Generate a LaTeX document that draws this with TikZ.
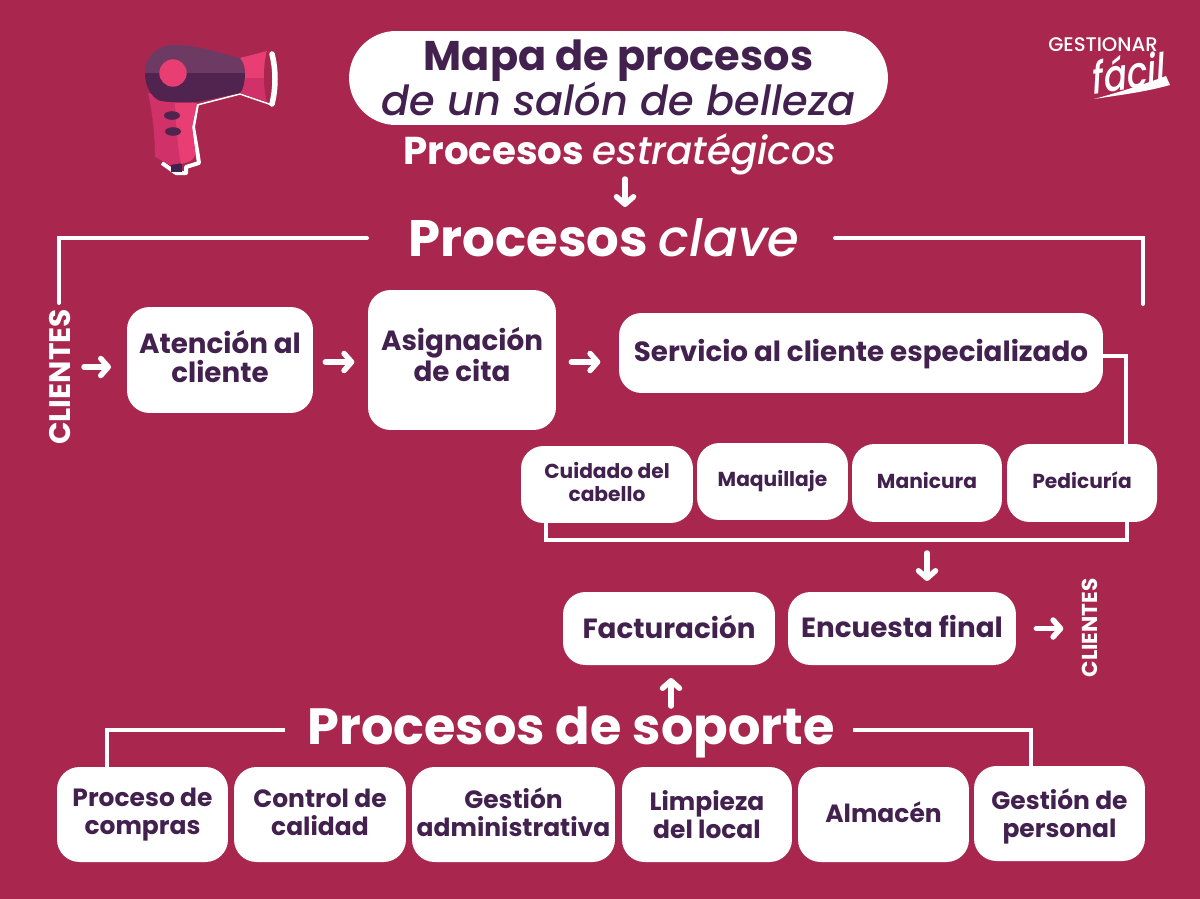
\documentclass[tikz,border=0pt]{standalone}
\usepackage{fontspec}
\setmainfont{Poppins}
\newfontfamily\popM[ItalicFont={Poppins Medium Italic}]{Poppins Medium}
\usepackage{tikz}
\usetikzlibrary{arrows.meta,calc,positioning}
\definecolor{fondo}{RGB}{169,39,79}
\definecolor{morado}{RGB}{67,33,79}
\definecolor{rosa}{RGB}{232,62,116}
\definecolor{rosaOsc}{RGB}{207,49,104}
\definecolor{moradoCl}{RGB}{109,58,99}
\definecolor{moradoOsc}{RGB}{80,36,79}
\tikzset{
  caja/.style={ fill=white, text=morado, font=\bfseries, align=center, inner sep=0pt, rounded corners=0.45cm }
}
\tikzset{
  cajaG/.style={ caja, font=\fontsize{15.8}{16.5}\selectfont\bfseries }
}
\tikzset{
  cajaM/.style={ caja, font=\fontsize{14.2}{16}\selectfont\bfseries }
}
\tikzset{
  cajaS/.style={ caja, font=\fontsize{11.5}{13}\selectfont\bfseries }
}
\tikzset{
  linea/.style={ draw=white, line width=0.08cm }
}
\tikzset{
  lineaF/.style={ draw=white, line width=0.07cm }
}
\tikzset{
  flecha/.style={ draw=white, line width=0.11cm, line cap=round, -{Straight Barb[round,length=1.5mm,width=3.4mm]} }
}
\tikzset{
  titulo/.style={ text=white, inner sep=0pt, font=\bfseries }
}
\begin{document}
\begin{tikzpicture}[x=0.02cm, y=-0.02cm]
      \fill[fondo] (0,0) rectangle (1200,899);
      \useasboundingbox (0,0) rectangle (1200,899);

      % secador
      \draw[white, line width=0.08cm, line join=round] (197,104) -- (193,127) -- (197,150) -- (199,163) -- (186,167) -- (186,173) -- (176,173) -- (162,163);
      \draw[white, line width=0.03cm] (197,105) -- (240,94) -- (272,105);
      \draw[white, line width=0.11cm, line cap=round] (272,54) .. controls (276,70) and (276,88) .. (272,104);
      \fill[morado] (171,163) rectangle (182,172);
      \fill[rosaOsc] (148,93) .. controls (152,110) and (155,135) .. (155,157) -- (170,165) -- (188,162) .. controls (194,160) and (196,155) .. (195,150) -- (192,127) -- (197,103) -- cycle;
      \fill[rosa] (175,103) .. controls (176,125) and (178,150) .. (181,164) -- (188,162) .. controls (194,160) and (196,155) .. (195,150) -- (192,127) -- (197,103) -- cycle;
      \fill[rosa] (240,58) -- (267,51) -- (264,78) -- (245,78) -- cycle;
      \fill[rosaOsc] (245,78) -- (264,78) -- (267,102) -- (240,93) -- cycle;
      \fill[fondo] (267,51) .. controls (263,65) and (263,88) .. (267,102) .. controls (270,88) and (270,65) .. (267,51) -- cycle;
      \fill[moradoCl] (145,73) .. controls (145,55) and (158,45) .. (175,45) .. controls (200,45) and (225,55) .. (240,58) .. controls (244,63) and (245,68) .. (245,73) -- cycle;
      \fill[moradoOsc] (145,73) -- (245,73) .. controls (245,82) and (243,90) .. (240,93) -- (197,102) .. controls (178,103) and (162,102) .. (158,100) .. controls (150,95) and (145,85) .. (145,73) -- cycle;
      \fill[rosa] (173,73) circle (13.7);
      \fill[moradoOsc] (172,115.5) ellipse (8 and 4.3);
      \fill[moradoOsc] (173,131.5) ellipse (8 and 4.3);

      % logo
      \node[text=white, inner sep=0pt, font=\fontsize{11.2}{12}\selectfont\popM] (gestionar) at (1103,44.5) {GESTIONAR};
      \node[text=white, inner sep=0pt, font=\fontsize{25}{27}\selectfont\popM\itshape, xscale=0.78, rotate=6] (facil) at (1129,72) {fácil};
      \fill[white] (1094,99) .. controls (1120,92) and (1145,84) .. (1166,76) -- (1170,85) .. controls (1145,92) and (1120,95) .. (1094,99) -- cycle;

      % titulo
      \node[caja, rounded corners=0.94cm, minimum width=10.78cm, minimum height=1.88cm, font=\fontsize{23.6}{25}\selectfont\bfseries] (mapa) at (618.5,78) {Mapa de procesos\\[-0.6pt]{\popM\mdseries\itshape de un salón de belleza}};

      \node[titulo, font=\fontsize{22.1}{24}\selectfont\bfseries] (estrat) at (620,154) {Procesos {\popM\mdseries\itshape estratégicos}};
      \node[titulo, font=\fontsize{29.2}{32}\selectfont\bfseries] (clave) at (604,238) {Procesos {\popM\mdseries\itshape clave}};
      \node[titulo, font=\fontsize{29}{34}\selectfont\bfseries] (soporte) at (571,732) {Procesos de soporte};

      \node[titulo, rotate=90, font=\fontsize{16.9}{18}\selectfont\bfseries] (cliA) at (60,377) {CLIENTES};
      \node[titulo, rotate=90, font=\fontsize{12.3}{13}\selectfont\bfseries] (cliB) at (1090,628) {CLIENTES};

      % cajas
      \node[cajaG, minimum width=3.72cm, minimum height=2.12cm, text depth=4pt] (atencion) at (220,360) {Atención al\\cliente};
      \node[cajaG, minimum width=3.76cm, minimum height=2.8cm, text depth=6.2pt] (cita) at (462,360) {Asignación\\de cita};
      \node[cajaG, minimum width=9.68cm, minimum height=1.6cm, text height=14pt] (servicio) at (861,353) {Servicio al cliente especializado};

      \node[cajaS, minimum width=3.44cm, minimum height=1.54cm, text depth=3.4pt] (cabello) at (607,484.5) {Cuidado del\\cabello};
      \node[cajaS, minimum width=3.02cm, minimum height=1.54cm] (maquillaje) at (772.5,481.5) {Maquillaje};
      \node[cajaS, minimum width=3cm, minimum height=1.56cm, text depth=3.4pt] (manicura) at (927,483) {Manicura};
      \node[cajaS, minimum width=3cm, minimum height=1.56cm, text depth=3.4pt] (pedicuria) at (1082,483) {Pedicuría};

      \node[cajaG, minimum width=4.24cm, minimum height=1.46cm, text depth=2.3pt] (factura) at (669,628.5) {Facturación};
      \node[cajaG, minimum width=4.56cm, minimum height=1.46cm, text depth=2.3pt] (encuesta) at (902,628.5) {Encuesta final};

      \node[cajaM, minimum width=3.42cm, minimum height=1.9cm] (compras) at (142.5,814.5) {Proceso de\\compras};
      \node[cajaM, minimum width=3.44cm, minimum height=1.9cm, text depth=2.3pt] (calidad) at (320,814.5) {Control de\\calidad};
      \node[cajaM, minimum width=4.06cm, minimum height=1.9cm, text depth=2.3pt] (admin) at (513.5,814.5) {Gestión\\administrativa};
      \node[cajaM, minimum width=3.4cm, minimum height=1.9cm] (limpieza) at (707,814.5) {Limpieza\\del local};
      \node[cajaM, minimum width=3.42cm, minimum height=1.9cm, text depth=2.3pt] (almacen) at (883.5,814.5) {Almacén};
      \node[cajaM, minimum width=3.42cm, minimum height=1.9cm, text height=31pt] (personal) at (1059.5,813.5) {Gestión de\\personal};

      % puntos libres
      \coordinate (claveA) at (367,238);
      \coordinate (claveB) at (59,303);
      \coordinate (claveC) at (835,238);
      \coordinate (claveD) at (1143,304);
      \coordinate (servA) at (1126,444);
      \coordinate (grupoA) at (546,523);
      \coordinate (grupoB) at (1127,522);
      \coordinate (grupoC) at (927,540);
      \coordinate (soporteA) at (285,730);
      \coordinate (soporteB) at (853,730);
      \coordinate (soporteC) at (107,767);
      \coordinate (soporteD) at (1031,766);
      \coordinate (soporteE) at (671,706);
      \coordinate (facturaA) at (671,678);

      % lineas
      \draw[linea, line cap=round] (claveA) -| (claveB);
      \draw[linea, line cap=round] (claveC) -| (claveD);
      \draw[lineaF] ($(servicio.east)+(0,3)$) -| (servA);
      \draw[lineaF] (grupoA) |- (1127,540) -- (grupoB);
      \draw[lineaF] (soporteA) -| (soporteC);
      \draw[lineaF] (soporteB) -| (soporteD);

      % flechas
      \draw[flecha] (84,367) -- (111,367);
      \draw[flecha] (atencion.east) ++(12,2) -- ++(29,0);
      \draw[flecha] (cita.east) ++(15,2) -- ++(29,0);
      \draw[flecha] (625,179) -- (625,207);
      \draw[flecha] (grupoC) ++(0,13) -- ++(0,28);
      \draw[flecha] (encuesta.east) ++(20,0) -- ++(27,0);
      \draw[flecha] (soporteE) -- (facturaA);
    \end{tikzpicture}
\end{document}
